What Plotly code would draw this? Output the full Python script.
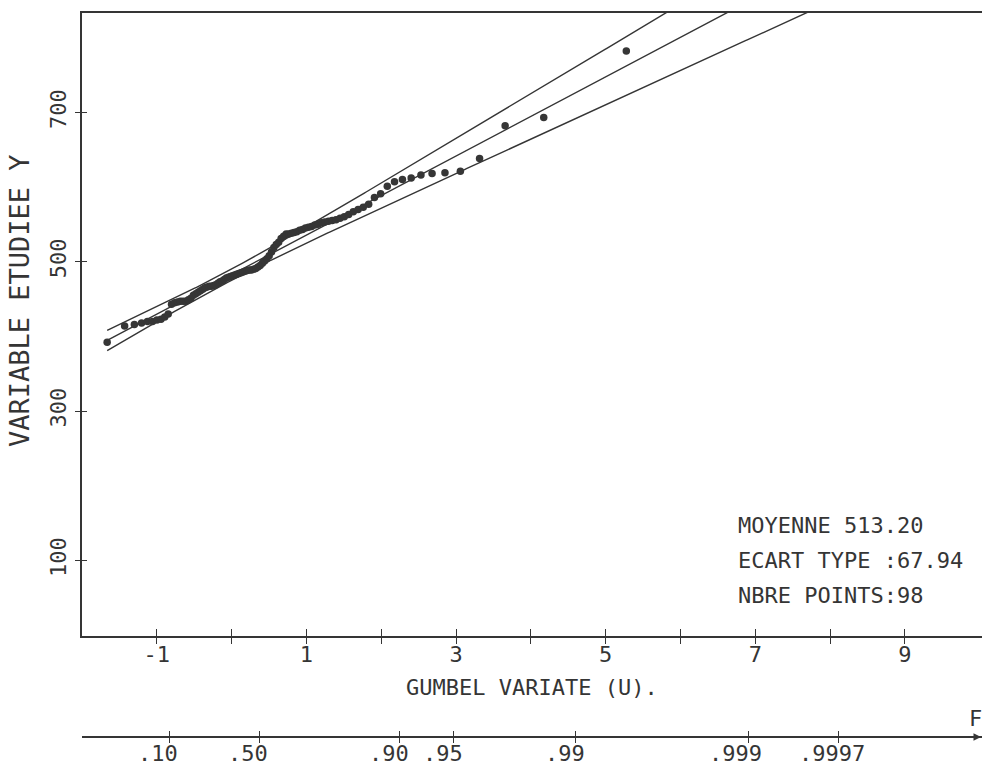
import numpy as np
import plotly.graph_objects as go

# Summary statistics printed on the chart
N_POINTS = 98
MOYENNE = 513.20
ECART_TYPE = 67.94

# Observed values, sorted ascending
valeurs = [
    392, 414, 416, 418, 420, 420, 422, 423, 426, 430,
    443, 445, 446, 447, 447, 447, 449, 451, 455, 457,
    459, 461, 463, 465, 466, 467, 467, 468, 469, 471,
    473, 474, 476, 478, 479, 480, 481, 482, 483, 484,
    485, 486, 487, 488, 489, 489, 490, 491, 493, 495,
    498, 501, 504, 508, 513, 519, 523, 526, 531, 534,
    537, 537, 538, 539, 540, 542, 543, 545, 546, 547,
    549, 550, 552, 553, 554, 555, 556, 558, 560, 563,
    567, 570, 573, 577, 586, 591, 601, 607, 610, 612,
    616, 618, 619, 621, 638, 682, 693, 782,
]

# Gumbel-variate ticks and probability ticks
u_ticks = [-1, 0, 1, 2, 3, 4, 5, 6, 7, 8, 9]
u_labels = ["-1", "", "1", "", "3", "", "5", "", "7", "", "9"]
y_ticks = [100, 300, 500, 700]
f_ticks = [0.10, 0.50, 0.90, 0.95, 0.99, 0.999, 0.9997]
f_labels = [".10", ".50", ".90", ".95", ".99", ".999", ".9997"]

X_RANGE = [-2.0, 10.03]
Y_RANGE = [-1.3, 833]

INK = "#353535"
FONT = "DejaVu Sans Mono"

# Hazen plotting positions -> reduced Gumbel variate
rang = np.arange(1, N_POINTS + 1)
freq = (rang - 0.5) / N_POINTS
u_obs = -np.log(-np.log(freq))

# Moment fit and 80 % confidence band of the quantiles
alpha = ECART_TYPE * np.sqrt(6) / np.pi
mu = MOYENNE - 0.5772 * alpha
u_line = np.linspace(u_obs[0], 10.5, 500)
centre = mu + alpha * u_line
K = (u_line - 0.5772) * np.sqrt(6) / np.pi
s_q = ECART_TYPE / np.sqrt(N_POINTS) * np.sqrt(1 + 1.1396 * K + 1.1 * K ** 2)
z = 1.2816
haut = centre + z * s_q
bas = centre - z * s_q

u_f = -np.log(-np.log(np.array(f_ticks)))

fig = go.Figure()
line_style = dict(color=INK, width=1.4)
for serie in (haut, centre, bas):
    fig.add_trace(go.Scatter(x=u_line, y=serie, mode="lines", line=line_style,
                             showlegend=False, hoverinfo="skip"))
fig.add_trace(go.Scatter(x=u_obs, y=valeurs, mode="markers",
                         marker=dict(size=7.5, color="#363636"),
                         showlegend=False))
# placeholders so the overlay axes are drawn
for ax in ("x2", "x3", "x4"):
    fig.add_trace(go.Scatter(x=[None], y=[None], xaxis=ax, yaxis="y",
                             showlegend=False, hoverinfo="skip"))
fig.add_trace(go.Scatter(x=[None], y=[None], xaxis="x", yaxis="y2",
                         showlegend=False, hoverinfo="skip"))

PH, MT, MB = 767, 13, 30
paper_h = PH - MT - MB
y_bottom = (PH - MB - 636) / paper_h
tick_font = dict(family=FONT, size=22, color=INK)

common_x = dict(range=X_RANGE, showgrid=False, zeroline=False,
                fixedrange=True, automargin=False, tickangle=0)
common_y = dict(range=Y_RANGE, showgrid=False, zeroline=False,
                fixedrange=True, automargin=False)
fig.update_layout(
    width=982, height=767,
    margin=dict(l=82, r=0, t=MT, b=MB, autoexpand=False),
    paper_bgcolor="white", plot_bgcolor="white",
    font=dict(family=FONT, color=INK),
    xaxis=dict(**common_x, anchor="y", tickmode="array", tickvals=u_ticks,
               ticktext=u_labels, ticks="outside", ticklen=6, tickwidth=1.3,
               tickcolor=INK, showline=True, linecolor=INK, linewidth=1.6,
               mirror=True, tickfont=tick_font, ticklabelstandoff=-8),
    xaxis3=dict(**common_x, overlaying="x", anchor="y", tickmode="array",
                tickvals=u_ticks, ticks="inside", ticklen=7, tickwidth=1.3,
                tickcolor=INK, showticklabels=False, showline=False),
    xaxis2=dict(**common_x, overlaying="x", anchor="free", position=0,
                tickmode="array", tickvals=u_f, ticks="outside", ticklen=5,
                tickwidth=1.3, tickcolor=INK, showticklabels=False,
                showline=True, linecolor=INK, linewidth=1.6),
    xaxis4=dict(**common_x, overlaying="x", anchor="free", position=0,
                tickmode="array", tickvals=u_f, ticks="inside", ticklen=6,
                tickwidth=1.3, tickcolor=INK, showticklabels=False,
                showline=False),
    yaxis=dict(**common_y, domain=[y_bottom, 1], tickmode="array",
               tickvals=y_ticks, ticks="outside", ticklen=5, tickwidth=1.3,
               tickcolor=INK, tickangle=-90, showline=True, linecolor=INK,
               linewidth=1.6, tickfont=tick_font),
    yaxis2=dict(**common_y, overlaying="y", side="left", tickmode="array",
                tickvals=y_ticks, ticks="inside", ticklen=5, tickwidth=1.3,
                tickcolor=INK, showticklabels=False, showline=False),
)


def py_to_paper(py):
    return (PH - MB - py) / paper_h


def px_to_paper(px):
    return (px - 82) / 900


txt = dict(family=FONT, size=22, color=INK)
annotations = [
    dict(text="VARIABLE ETUDIEE Y", x=px_to_paper(19), y=py_to_paper(301),
         textangle=-90, font=dict(family=FONT, size=27, color=INK)),
    dict(text="GUMBEL VARIATE (U).", x=0.5, y=py_to_paper(687)),
    dict(text="F", x=px_to_paper(975), y=py_to_paper(718)),
]
for i, line in enumerate(["MOYENNE %.2f" % MOYENNE,
                          "ECART TYPE :%.2f" % ECART_TYPE,
                          "NBRE POINTS:%d" % N_POINTS]):
    annotations.append(dict(text=line, x=px_to_paper(736),
                            y=py_to_paper(525 + 35 * i), xanchor="left"))
# probability labels written just left of their tick
for uf, lab in zip(u_f, f_labels):
    annotations.append(dict(text=lab, x=uf, xref="x",
                            xshift=-33 if len(lab) == 3 else -41,
                            y=py_to_paper(753), xanchor="left"))
for a in annotations:
    a.setdefault("xref", "paper")
    a.setdefault("font", txt)
    a.update(yref="paper", showarrow=False)
    a.setdefault("xanchor", "center")
    a.setdefault("yanchor", "middle")

# arrow head at the end of the probability axis
annotations.append(dict(x=1, y=0, xref="paper", yref="paper", ax=-16, ay=0,
                        text="", showarrow=True, arrowhead=2, arrowsize=1,
                        arrowwidth=1.5, arrowcolor=INK))
fig.update_layout(annotations=annotations)

fig.write_html("out.html")
